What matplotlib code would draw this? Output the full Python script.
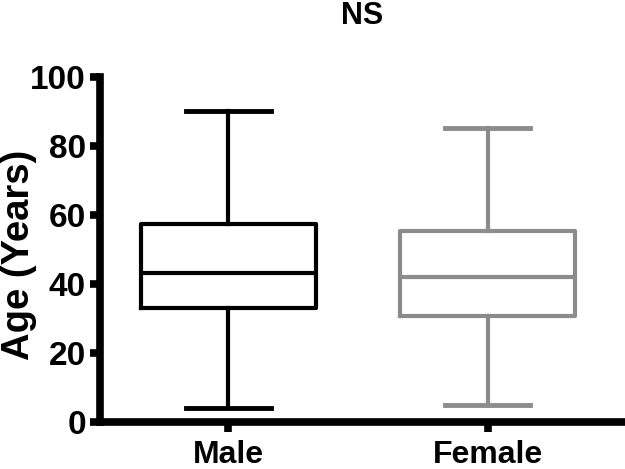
import matplotlib.pyplot as plt

plt.rcParams['font.family'] = ['Liberation Sans', 'DejaVu Sans']
plt.rcParams['font.weight'] = 'bold'

# group names and five-number summaries
grupos = ['Male', 'Female']
minimo = [4, 5]
q1 = [33, 30.8]
mediana = [43.2, 42.1]
q3 = [57.3, 55.4]
maximo = [90.2, 85.2]
cores = ['black', '#8c8c8c']

stats = []
for i in range(len(grupos)):
    stats.append({'label': grupos[i], 'whislo': minimo[i], 'q1': q1[i],
                  'med': mediana[i], 'q3': q3[i], 'whishi': maximo[i]})

fig = plt.figure(figsize=(6.25, 4.69), dpi=100)
ax = fig.add_axes([0.16, 0.10, 0.84, 0.736])

for i, s in enumerate(stats):
    c = cores[i]
    ax.bxp([s], positions=[i + 1], widths=0.675, showfliers=False,
           boxprops=dict(color=c, lw=3),
           medianprops=dict(color=c, lw=3),
           whiskerprops=dict(color=c, lw=3),
           capprops=dict(color=c, lw=3.5),
           capwidths=0.33)

ax.set_xlim(0.505, 2.53)
ax.set_ylim(0, 100)
ax.set_yticks([0, 20, 40, 60, 80, 100])
ax.set_xticks([1, 2])
ax.set_xticklabels(grupos)

for lado in ['top', 'right']:
    ax.spines[lado].set_visible(False)
for lado in ['left', 'bottom']:
    ax.spines[lado].set_linewidth(5.5)

ax.tick_params(axis='y', width=5.5, length=7, labelsize=24, pad=3)
ax.tick_params(axis='x', width=5.5, length=7, labelsize=23, pad=6)
ax.set_ylabel('Age (Years)', fontsize=27.5, fontweight='bold')
ax.yaxis.set_label_coords(-0.12, 0.485)
ax.set_title('NS', fontsize=22, fontweight='bold', pad=38)

plt.savefig('out.png')
